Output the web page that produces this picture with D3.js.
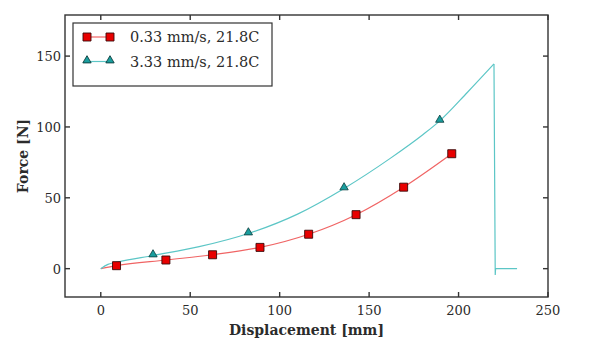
<!DOCTYPE html>
<html>
<head>
<meta charset="utf-8">
<script src="https://cdn.jsdelivr.net/npm/d3@7"></script>
<style>
  body { margin: 0; background: #fff; }
  svg text { font-family: "DejaVu Serif", "Liberation Serif", serif; fill: #2b2b2b; }
</style>
</head>
<body>
<div id="chart"></div>
<script>
// slow run, 0.33 mm/s
const slowX = [0, 8.8, 36.4, 62.5, 89, 116.2, 142.7, 169.3, 196.2]
const slowY = [0, 2.1, 6.1, 9.8, 15, 24.3, 38.1, 57.5, 81.1]
const slowMarkerIdx = [1, 2, 3, 4, 5, 6, 7, 8]

// fast run, 3.33 mm/s (loading up to failure)
const fastX = [0, 4, 10, 29.2, 55, 82.5, 110, 136, 162, 180, 189.5, 205, 219.8]
const fastY = [0, 3, 4.8, 9.3, 15.5, 24.8, 38.5, 56.6, 78, 94.5, 104.3, 124.5, 144.5]
const fastMarkerIdx = [3, 5, 7, 10]
// after the break
const fastTailX = [219.8, 220.5, 220.7, 232.7]
const fastTailY = [144.5, -4.5, 0, 0]

const xTicks = [0, 50, 100, 150, 200, 250]
const yTicks = [0, 50, 100, 150]
const seriesNames = ['0.33 mm/s, 21.8C', '3.33 mm/s, 21.8C']

const width = 600, height = 346
const margin = { top: 15, right: 52, bottom: 49, left: 65 }

const svg = d3.select('#chart').append('svg')
    .attr('width', width)
    .attr('height', height)

const x = d3.scaleLinear().domain([-20, 250]).range([margin.left, width - margin.right])
const y = d3.scaleLinear().domain([-20, 179]).range([height - margin.bottom, margin.top])

const zip = (xs, ys) => xs.map((v, i) => [v, ys[i]])
const slow = zip(slowX, slowY)
const fast = zip(fastX, fastY)
const fastTail = zip(fastTailX, fastTailY)

const smooth = d3.line().x(d => x(d[0])).y(d => y(d[1])).curve(d3.curveMonotoneX)
const straight = d3.line().x(d => x(d[0])).y(d => y(d[1]))

const slowLine = '#f06464', slowFill = '#e80000'
const fastLine = '#5cc6c6', fastFill = '#1a9e9e'

const plot = svg.append('g')

plot.append('path').attr('d', smooth(slow))
    .attr('fill', 'none').attr('stroke', slowLine).attr('stroke-width', 1.2)
plot.append('path').attr('d', smooth(fast))
    .attr('fill', 'none').attr('stroke', fastLine).attr('stroke-width', 1.2)
plot.append('path').attr('d', straight(fastTail))
    .attr('fill', 'none').attr('stroke', fastLine).attr('stroke-width', 1.2)

const square = d3.symbol().type(d3.symbolSquare).size(64)
const triangle = d3.symbol().type(d3.symbolTriangle).size(30)

plot.selectAll('path.sq')
    .data(slowMarkerIdx.map(i => slow[i]))
    .enter().append('path')
    .attr('class', 'sq')
    .attr('d', square)
    .attr('transform', d => `translate(${x(d[0])},${y(d[1])})`)
    .attr('fill', slowFill).attr('stroke', '#3a0a0a').attr('stroke-width', 0.9)

plot.selectAll('path.tri')
    .data(fastMarkerIdx.map(i => fast[i]))
    .enter().append('path')
    .attr('class', 'tri')
    .attr('d', triangle)
    .attr('transform', d => `translate(${x(d[0])},${y(d[1]) - 1})`)
    .attr('fill', fastFill).attr('stroke', '#0b3b3b').attr('stroke-width', 0.8)

// frame and inward ticks on all four sides
const frame = svg.append('g').attr('stroke', '#333').attr('stroke-width', 1.4)
frame.append('rect')
    .attr('x', margin.left).attr('y', margin.top)
    .attr('width', width - margin.left - margin.right)
    .attr('height', height - margin.top - margin.bottom)
    .attr('fill', 'none')

const tickLen = 5
xTicks.forEach(t => {
    frame.append('line').attr('x1', x(t)).attr('x2', x(t))
        .attr('y1', y.range()[0]).attr('y2', y.range()[0] - tickLen)
    frame.append('line').attr('x1', x(t)).attr('x2', x(t))
        .attr('y1', y.range()[1]).attr('y2', y.range()[1] + tickLen)
})
yTicks.forEach(t => {
    frame.append('line').attr('y1', y(t)).attr('y2', y(t))
        .attr('x1', x.range()[0]).attr('x2', x.range()[0] + tickLen)
    frame.append('line').attr('y1', y(t)).attr('y2', y(t))
        .attr('x1', x.range()[1]).attr('x2', x.range()[1] - tickLen)
})

svg.selectAll('text.xt')
    .data(xTicks)
    .enter().append('text')
    .attr('class', 'xt')
    .attr('x', d => x(d)).attr('y', 315)
    .attr('text-anchor', 'middle')
    .attr('font-size', 13)
    .text(d => d)

svg.selectAll('text.yt')
    .data(yTicks)
    .enter().append('text')
    .attr('class', 'yt')
    .attr('x', 61).attr('y', d => y(d) + 5)
    .attr('text-anchor', 'end')
    .attr('font-size', 13)
    .text(d => d)

svg.append('text')
    .attr('x', (x.range()[0] + x.range()[1]) / 2).attr('y', 335)
    .attr('text-anchor', 'middle')
    .attr('font-size', 14).attr('font-weight', 'bold')
    .text('Displacement [mm]')

svg.append('text')
    .attr('transform', `translate(28,${(y.range()[0] + y.range()[1]) / 2}) rotate(-90)`)
    .attr('text-anchor', 'middle')
    .attr('font-size', 14).attr('font-weight', 'bold')
    .text('Force [N]')

// legend
const legend = svg.append('g')
legend.append('rect')
    .attr('x', 73).attr('y', 23).attr('width', 199).attr('height', 63)
    .attr('fill', '#fff').attr('stroke', '#333').attr('stroke-width', 1.2)

const legendRows = [
    { name: seriesNames[0], line: slowLine, fill: slowFill, edge: '#3a0a0a', sym: square, dy: 0 },
    { name: seriesNames[1], line: fastLine, fill: fastFill, edge: '#0b3b3b', sym: triangle, dy: -1 }
]
legendRows.forEach((r, i) => {
    const cy = 37 + i * 24.5
    legend.append('line').attr('x1', 87).attr('x2', 110).attr('y1', cy).attr('y2', cy)
        .attr('stroke', r.line).attr('stroke-width', 1.2)
    ;[87, 110].forEach(px => {
        legend.append('path').attr('d', r.sym)
            .attr('transform', `translate(${px},${cy + r.dy})`)
            .attr('fill', r.fill).attr('stroke', r.edge).attr('stroke-width', 0.9)
    })
    legend.append('text')
        .attr('x', 130).attr('y', cy + 5)
        .attr('font-size', 14.5)
        .text(r.name)
})
</script>
</body>
</html>
